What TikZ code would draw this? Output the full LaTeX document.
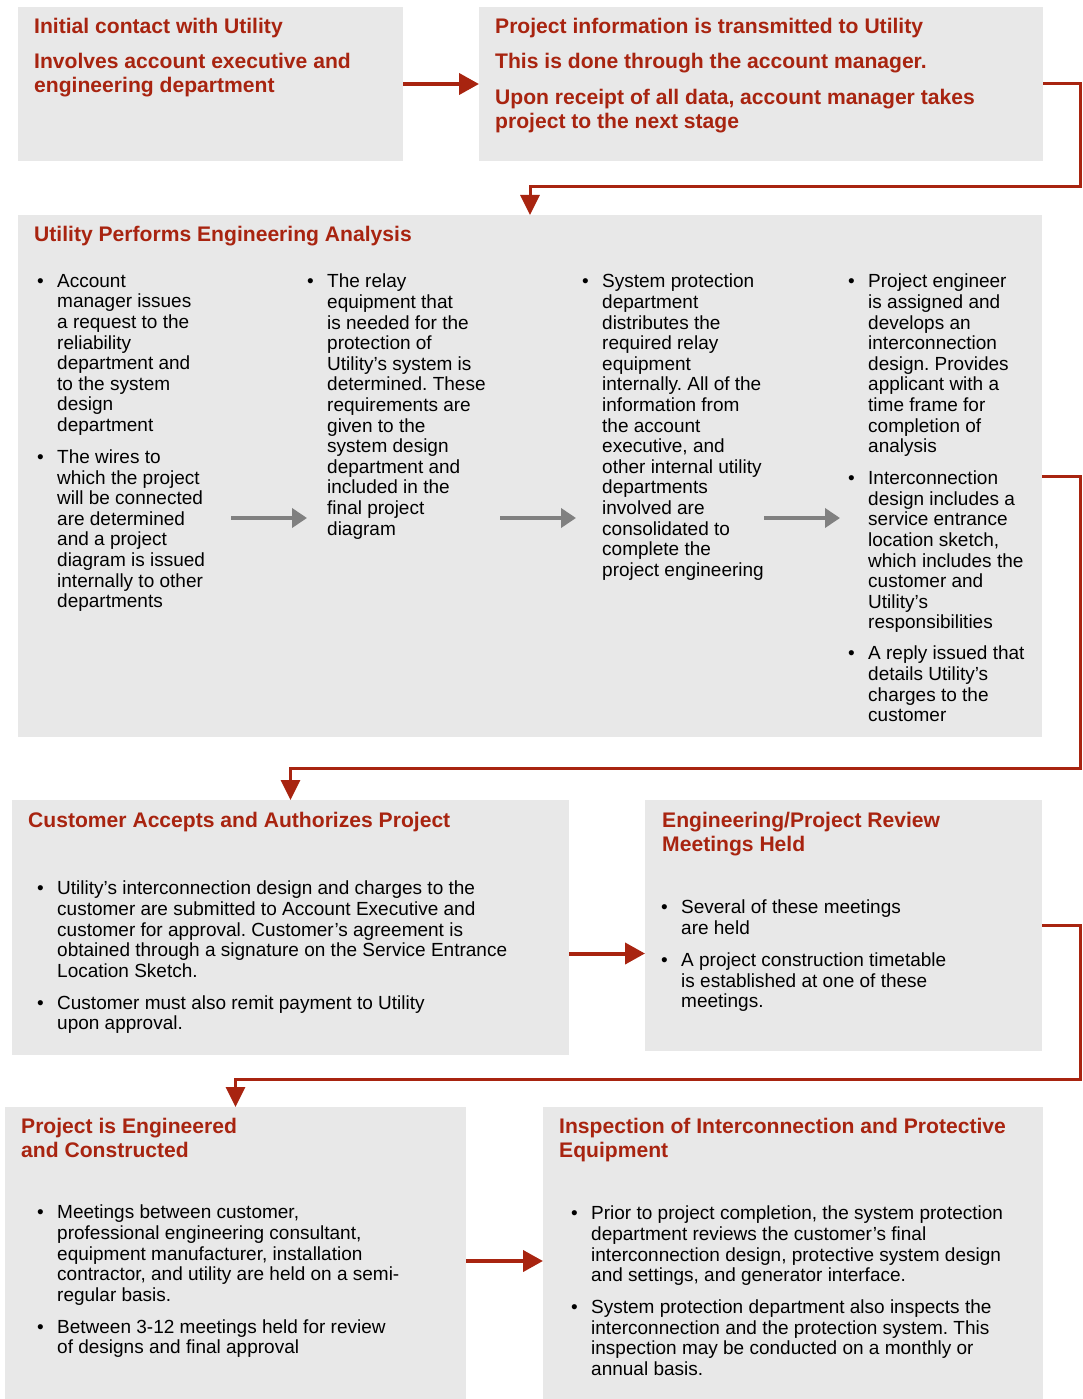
\documentclass[tikz,border=0pt]{standalone}
\usepackage{fontspec}
\setmainfont{Liberation Sans}
\usetikzlibrary{arrows.meta}
\definecolor{utilred}{RGB}{168,36,16}
\definecolor{boxgray}{RGB}{232,232,232}
\definecolor{arrgray}{RGB}{128,128,128}
\def\bul{\makebox[20pt][l]{\textbullet}}
\def\ind{\hspace*{20pt}}
\frenchspacing

\tikzset{
  box/.style={fill=boxgray, draw=none, anchor=north west, inner sep=0pt, outer sep=0pt},
  title/.style={anchor=north west, inner sep=0pt, align=left, text=utilred, font=\fontsize{21.1}{24}\selectfont\bfseries, execute at begin node={\rule{0pt}{17pt}}, yshift=-2pt},
  body/.style={anchor=north west, inner sep=0pt, align=left, text=black, font=\fontsize{19}{20.6}\selectfont, execute at begin node={\rule{0pt}{15pt}}, yshift=-2pt},
  redarrow/.style={utilred, line width=4pt, -{Triangle[length=20pt,width=21pt]}},
  elbow/.style={utilred, line width=3pt, -{Triangle[length=20pt,width=19pt]}},
  grayarrow/.style={arrgray, line width=4pt, -{Triangle[length=15pt,width=19pt]}}
}

\begin{document}
\begin{tikzpicture}[x=1pt, y=-1pt]
			%%%%% START %%%%%
			\useasboundingbox (0,0) rectangle (1082,1399);
			
			% boxes
			\node[box, minimum width=385pt, minimum height=154pt] (b1) at (18,7) {};
			\node[box, minimum width=564pt, minimum height=154pt] (b2) at (479,7) {};
			\node[box, minimum width=1024pt, minimum height=522pt] (b3) at (18,215) {};
			\node[box, minimum width=557pt, minimum height=255pt] (b4) at (12,800) {};
			\node[box, minimum width=397pt, minimum height=251pt] (b5) at (645,800) {};
			\node[box, minimum width=461pt, minimum height=292pt] (b6) at (5,1107) {};
			\node[box, minimum width=500pt, minimum height=292pt] (b7) at (543,1107) {};
			
			% first row
			\node[title] (t1) at (34,16) {Initial contact with Utility\\[11pt]Involves account executive and\\engineering department};
			\node[title] (t2) at (495,16) {Project information is transmitted to Utility\\[11pt]This is done through the account manager.\\[12pt]Upon receipt of all data, account manager takes\\project to the next stage};
			
			% engineering analysis
			\node[title] (t3) at (34,222) {Utility Performs Engineering Analysis};
			\node[body] (c1) at (37,272) {\bul Account\\\ind manager issues\\\ind a request to the\\\ind reliability\\\ind department and\\\ind to the system\\\ind design\\\ind department\\[11.4pt]\bul The wires to\\\ind which the project\\\ind will be connected\\\ind are determined\\\ind and a project\\\ind diagram is issued\\\ind internally to other\\\ind departments};
			\node[body] (c2) at (307,272) {\bul The relay\\\ind equipment that\\\ind is needed for the\\\ind protection of\\\ind Utility’s system is\\\ind determined. These\\\ind requirements are\\\ind given to the\\\ind system design\\\ind department and\\\ind included in the\\\ind final project\\\ind diagram};
			\node[body] (c3) at (582,272) {\bul System protection\\\ind department\\\ind distributes the\\\ind required relay\\\ind equipment\\\ind internally. All of the\\\ind information from\\\ind the account\\\ind executive, and\\\ind other internal utility\\\ind departments\\\ind involved are\\\ind consolidated to\\\ind complete the\\\ind project engineering};
			\node[body] (c4) at (848,272) {\bul Project engineer\\\ind is assigned and\\\ind develops an\\\ind interconnection\\\ind design. Provides\\\ind applicant with a\\\ind time frame for\\\ind completion of\\\ind analysis\\[11.4pt]\bul Interconnection\\\ind design includes a\\\ind service entrance\\\ind location sketch,\\\ind which includes the\\\ind customer and\\\ind Utility’s\\\ind responsibilities\\[10.4pt]\bul A reply issued that\\\ind details Utility’s\\\ind charges to the\\\ind customer};
			
			\coordinate (g1s) at (231,518); \coordinate (g1e) at (307,518);
			\coordinate (g2s) at (500,518); \coordinate (g2e) at (576,518);
			\coordinate (g3s) at (764,518); \coordinate (g3e) at (840,518);
			\draw[grayarrow] (g1s) -- (g1e);
			\draw[grayarrow] (g2s) -- (g2e);
			\draw[grayarrow] (g3s) -- (g3e);
			
			% customer and review
			\node[title] (t4) at (28,808) {Customer Accepts and Authorizes Project};
			\node[body] (c5) at (37,879) {\bul Utility’s interconnection design and charges to the\\\ind customer are submitted to Account Executive and\\\ind customer for approval. Customer’s agreement is\\\ind obtained through a signature on the Service Entrance\\\ind Location Sketch.\\[11.4pt]\bul Customer must also remit payment to Utility\\\ind upon approval.};
			\node[title] (t5) at (662,810) {Engineering/Project Review\\Meetings Held};
			\node[body] (c6) at (661,898) {\bul Several of these meetings\\\ind are held\\[11.4pt]\bul A project construction timetable\\\ind is established at one of these\\\ind meetings.};
			
			% last row
			\node[title] (t6) at (21,1116) {Project is Engineered\\and Constructed};
			\node[body] (c7) at (37,1203) {\bul Meetings between customer,\\\ind professional engineering consultant,\\\ind equipment manufacturer, installation\\\ind contractor, and utility are held on a semi-\\\ind regular basis.\\[11.4pt]\bul Between 3-12 meetings held for review\\\ind of designs and final approval};
			\node[title] (t7) at (559,1116) {Inspection of Interconnection and Protective\\Equipment};
			\node[body] (c8) at (571,1204) {\bul Prior to project completion, the system protection\\\ind department reviews the customer’s final\\\ind interconnection design, protective system design\\\ind and settings, and generator interface.\\[11.4pt]\bul System protection department also inspects the\\\ind interconnection and the protection system. This\\\ind inspection may be conducted on a monthly or\\\ind annual basis.};
			
			% connectors
			\draw[redarrow] (b1.east) -- (b2.west);
			\draw[elbow] (b2.east) -- ++(37,0) -- ++(0,103) -| (b3.north);
			\draw[elbow] (b3.east) -- ++(38,0) -- ++(0,292) -| (b4.north);
			\draw[redarrow] ([yshift=-26pt]b4.east) -- ([yshift=-26pt]b4.east -| b5.west);
			\draw[elbow] (b5.east) -- ++(38,0) -- ++(0,154) -| (b6.north);
			\draw[redarrow] ([yshift=-8pt]b6.east) -- ([yshift=-8pt]b6.east -| b7.west);
			
			%%%%% END %%%%%
\end{tikzpicture}
\end{document}
